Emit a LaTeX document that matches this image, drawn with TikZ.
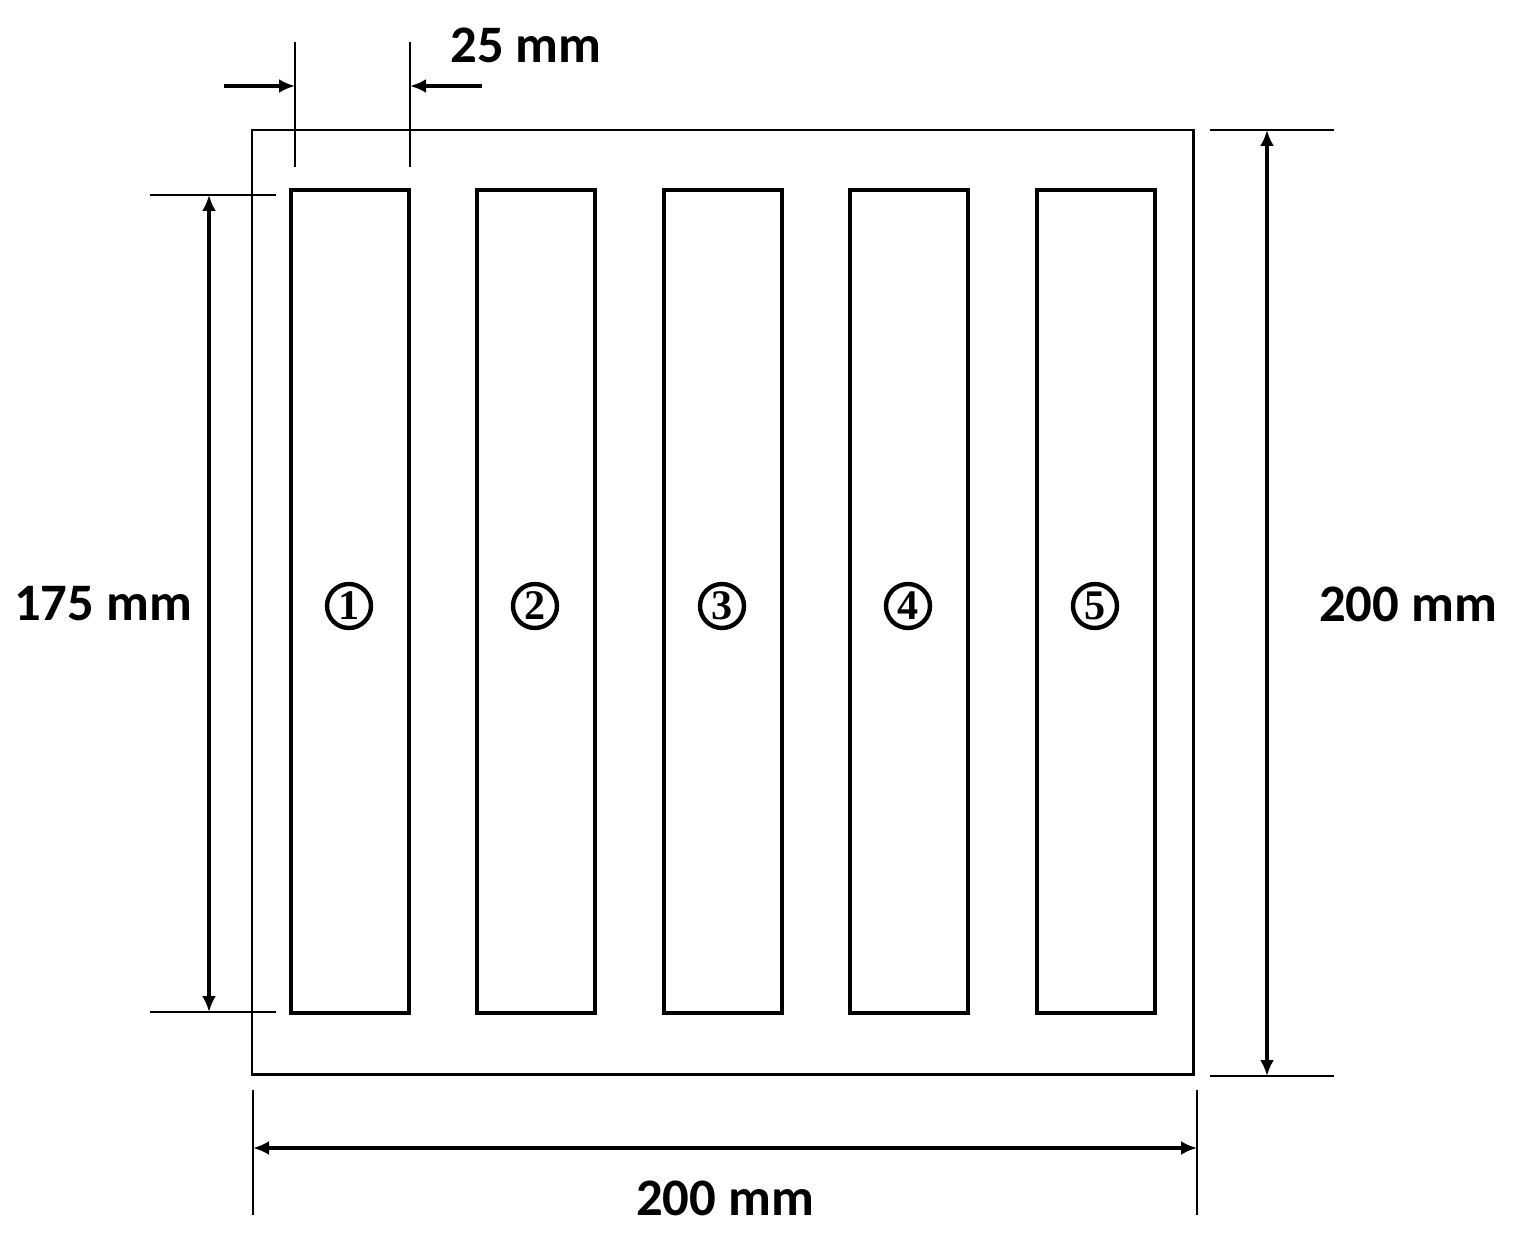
\documentclass[tikz,border=0pt]{standalone}
\usepackage{fontspec}
\setmainfont{Carlito}
\newfontfamily\numfont{Liberation Serif}
\usetikzlibrary{arrows.meta}
\begin{document}
\begin{tikzpicture}[x=0.02cm,y=-0.02cm,
  extline/.style={line width=1.6pt},
  dimarrow/.style={line width=1.8pt,-{Latex[length=0.32cm,width=0.28cm]}},
  dimarrows/.style={line width=1.8pt,{Latex[length=0.32cm,width=0.28cm]}-{Latex[length=0.32cm,width=0.28cm]}},
  strip/.style={line width=2.2pt},
  outer/.style={line width=1.7pt},
  num/.style={circle,draw,line width=2.5pt,inner sep=0pt,minimum size=0.88cm,font=\fontsize{24}{24}\selectfont\numfont\bfseries},
  lbl/.style={font=\fontsize{30}{30}\selectfont\bfseries,inner sep=0pt}]
\useasboundingbox (0,0) rectangle (1515,1240);
% outer square
\draw[outer] (252,130) rectangle (1193,1074);
% strips
\foreach \x/\n in {291/1,477/2,664/3,850/4,1037/5}{
  \draw[strip] (\x,190) rectangle (\x+118,1013);
  \node[num] (n\n) at (\x+58,606) {\n};
}
% top 25 mm dimension
\coordinate (e1t) at (295,42); \coordinate (e1b) at (295,167);
\coordinate (e2t) at (410,42); \coordinate (e2b) at (410,167);
\draw[extline] (e1t) -- (e1b);
\draw[extline] (e2t) -- (e2b);
\coordinate (a1s) at (224,86); \coordinate (a1e) at (295,86);
\coordinate (a2s) at (482,86); \coordinate (a2e) at (410,86);
\draw[dimarrow] (a1s) -- (a1e);
\draw[dimarrow] (a2s) -- (a2e);
\node[lbl] (t25) at (526,45) {25 mm};
% left 175 mm dimension
\coordinate (l1a) at (150,195); \coordinate (l1b) at (276,195);
\coordinate (l2a) at (150,1012); \coordinate (l2b) at (276,1012);
\draw[extline] (l1a) -- (l1b);
\draw[extline] (l2a) -- (l2b);
\coordinate (la) at (209,195); \coordinate (lb) at (209,1012);
\draw[dimarrows] (la) -- (lb);
\node[lbl] (t175) at (103,604) {175 mm};
% right 200 mm dimension
\coordinate (r1a) at (1210,130); \coordinate (r1b) at (1334,130);
\coordinate (r2a) at (1210,1076); \coordinate (r2b) at (1334,1076);
\draw[extline] (r1a) -- (r1b);
\draw[extline] (r2a) -- (r2b);
\coordinate (ra) at (1267,130); \coordinate (rb) at (1267,1076);
\draw[dimarrows] (ra) -- (rb);
\node[lbl] (t200r) at (1408,604) {200 mm};
% bottom 200 mm dimension
\coordinate (b1a) at (253,1090); \coordinate (b1b) at (253,1215);
\coordinate (b2a) at (1197,1090); \coordinate (b2b) at (1197,1215);
\draw[extline] (b1a) -- (b1b);
\draw[extline] (b2a) -- (b2b);
\coordinate (ba) at (253,1148); \coordinate (bb) at (1197,1148);
\draw[dimarrows] (ba) -- (bb);
\node[lbl] (t200b) at (725,1198) {200 mm};
\end{tikzpicture}
\end{document}
